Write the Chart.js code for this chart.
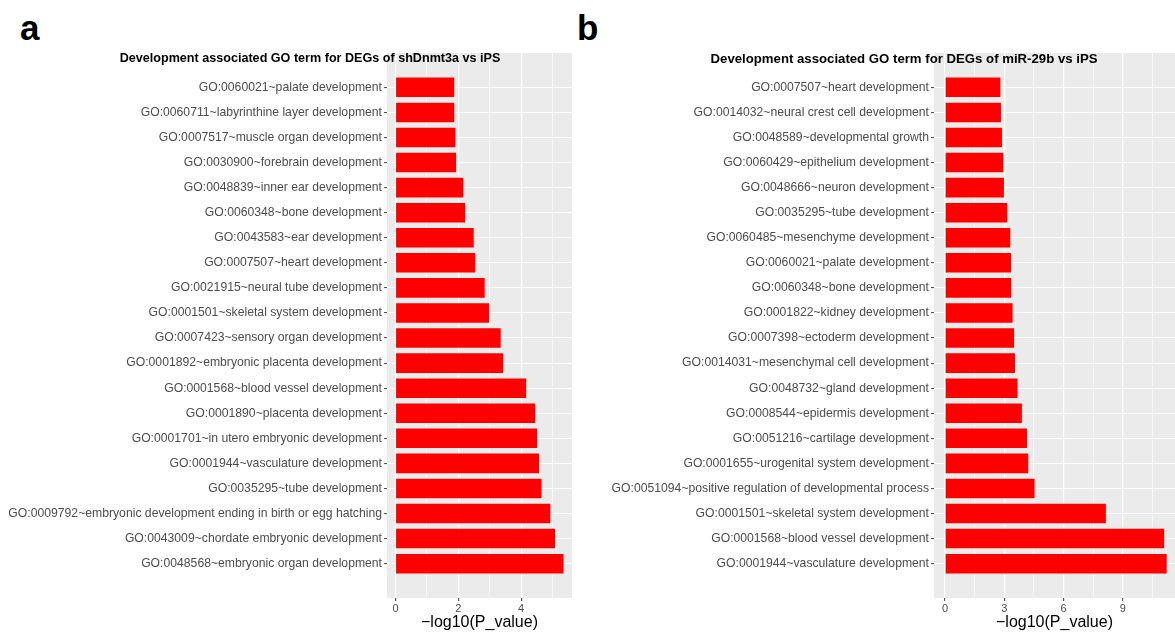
<!DOCTYPE html>
<html>
<head>
<meta charset="utf-8">
<script src="https://cdn.jsdelivr.net/npm/chart.js@4.4.0/dist/chart.umd.min.js"></script>
<style>
  body { margin: 0; background: #fff; width: 1175px; height: 632px; position: relative; overflow: hidden; font-family: "Liberation Sans", Arial, sans-serif; }
  .panel { position: absolute; top: 0; }
  .letter { position: absolute; font-weight: bold; font-size: 35px; color: #000; line-height: 1; }
</style>
</head>
<body>
<div class="letter" style="left:20px;top:10px;">a</div>
<div class="letter" style="left:577px;top:10px;">b</div>
<div class="panel" style="left:0px;"><canvas id="chartA" width="580" height="632"></canvas></div>
<div class="panel" style="left:580px;"><canvas id="chartB" width="595" height="632"></canvas></div>
<script>
var titleA = "Development associated GO term for DEGs of shDnmt3a vs iPS";
var labelsA = [
  "GO:0060021~palate development",
  "GO:0060711~labyrinthine layer development",
  "GO:0007517~muscle organ development",
  "GO:0030900~forebrain development",
  "GO:0048839~inner ear development",
  "GO:0060348~bone development",
  "GO:0043583~ear development",
  "GO:0007507~heart development",
  "GO:0021915~neural tube development",
  "GO:0001501~skeletal system development",
  "GO:0007423~sensory organ development",
  "GO:0001892~embryonic placenta development",
  "GO:0001568~blood vessel development",
  "GO:0001890~placenta development",
  "GO:0001701~in utero embryonic development",
  "GO:0001944~vasculature development",
  "GO:0035295~tube development",
  "GO:0009792~embryonic development ending in birth or egg hatching",
  "GO:0043009~chordate embryonic development",
  "GO:0048568~embryonic organ development"
];
var valuesA = [1.87, 1.87, 1.91, 1.93, 2.16, 2.22, 2.49, 2.54, 2.84, 2.98,
               3.35, 3.43, 4.16, 4.45, 4.51, 4.57, 4.65, 4.93, 5.08, 5.35];
var xTicksA = [0, 1, 2, 3, 4, 5];
var xMajorA = [0, 2, 4];

var titleB = "Development associated GO term for DEGs of miR-29b vs iPS";
var labelsB = [
  "GO:0007507~heart development",
  "GO:0014032~neural crest cell development",
  "GO:0048589~developmental growth",
  "GO:0060429~epithelium development",
  "GO:0048666~neuron development",
  "GO:0035295~tube development",
  "GO:0060485~mesenchyme development",
  "GO:0060021~palate development",
  "GO:0060348~bone development",
  "GO:0001822~kidney development",
  "GO:0007398~ectoderm development",
  "GO:0014031~mesenchymal cell development",
  "GO:0048732~gland development",
  "GO:0008544~epidermis development",
  "GO:0051216~cartilage development",
  "GO:0001655~urogenital system development",
  "GO:0051094~positive regulation of developmental process",
  "GO:0001501~skeletal system development",
  "GO:0001568~blood vessel development",
  "GO:0001944~vasculature development"
];
var valuesB = [2.80, 2.83, 2.88, 2.95, 2.98, 3.15, 3.30, 3.34, 3.35, 3.42,
               3.49, 3.54, 3.67, 3.89, 4.15, 4.21, 4.53, 8.14, 11.09, 11.22];
var xTicksB = [0, 1.5, 3, 4.5, 6, 7.5, 9, 10.5];
var xMajorB = [0, 3, 6, 9];

var axisTitle = "\u2212log10(P_value)";
var FONT = "'Liberation Sans', Arial, sans-serif";

function makePanel(id, title, labels, values, xTicks, xMajor, o) {
  var pts = values.map(function(v, i) { return {x: v, y: i}; });
  var isMajor = function(v) { return xMajor.indexOf(v) >= 0; };
  var panelPlugin = {
    id: 'panel_' + id,
    beforeDraw: function(chart) {
      // ggplot-like grey panel
      var a = chart.chartArea, c = chart.ctx;
      c.save();
      c.fillStyle = '#EBEBEB';
      c.fillRect(a.left, a.top, a.right - a.left, a.bottom - a.top);
      c.restore();
    },
    afterDraw: function(chart) {
      var c = chart.ctx;
      c.save();
      c.font = 'bold ' + o.titleSize + 'px ' + FONT;
      c.fillStyle = '#000';
      c.textAlign = 'center';
      c.textBaseline = 'middle';
      c.fillText(title, o.titleX, 59);
      c.restore();
    }
  };
  return new Chart(document.getElementById(id), {
    type: 'bar',
    data: {
      datasets: [{
        data: pts,
        backgroundColor: '#FF0000',
        borderWidth: 0,
        categoryPercentage: 1,
        barPercentage: 0.78
      }]
    },
    plugins: [panelPlugin],
    options: {
      indexAxis: 'y',
      responsive: false,
      animation: false,
      devicePixelRatio: 1,
      layout: { padding: { top: 53, right: o.padRight, bottom: 0, left: 0 } },
      plugins: { legend: { display: false }, tooltip: { enabled: false } },
      scales: {
        x: {
          type: 'linear',
          min: o.xMin,
          max: o.xMax,
          afterBuildTicks: function(s) { s.ticks = xTicks.map(function(v) { return {value: v}; }); },
          afterFit: function(s) { s.height = 34; },
          border: { display: false },
          grid: {
            color: '#FFFFFF',
            lineWidth: function(ctx) { return isMajor(ctx.tick.value) ? 1.2 : 0.6; },
            tickColor: function(ctx) { return isMajor(ctx.tick.value) ? '#555555' : 'rgba(0,0,0,0)'; },
            tickLength: 3,
            drawTicks: true
          },
          ticks: {
            autoSkip: false,
            maxRotation: 0,
            padding: 1,
            color: '#4D4D4D',
            font: { family: FONT, size: 11 },
            callback: function(v) { return isMajor(v) ? String(v) : ''; }
          },
          title: {
            display: true,
            text: axisTitle,
            color: '#000',
            font: { family: FONT, size: 16 },
            padding: { top: 0, bottom: 0 }
          }
        },
        y: {
          type: 'linear',
          reverse: true,
          offset: false,
          min: -1.37,
          max: labels.length - 1 + 1.37,
          afterBuildTicks: function(s) { s.ticks = labels.map(function(l, i) { return {value: i}; }); },
          afterFit: function(s) { s.width = o.yWidth; },
          border: { display: false },
          grid: {
            offset: false,
            color: '#FFFFFF',
            lineWidth: 1.1,
            tickColor: '#555555',
            tickLength: 3,
            drawTicks: true
          },
          ticks: {
            autoSkip: false,
            padding: 2,
            color: '#4D4D4D',
            font: { family: FONT, size: 12.2 },
            callback: function(v) { return labels[v]; }
          }
        }
      }
    }
  });
}

makePanel('chartA', titleA, labelsA, valuesA, xTicksA, xMajorA,
  { xMin: -0.27, xMax: 5.62, yWidth: 387, padRight: 8, titleX: 310, titleSize: 12.6 });
makePanel('chartB', titleB, labelsB, valuesB, xTicksB, xMajorB,
  { xMin: -0.56, xMax: 11.64, yWidth: 354, padRight: 0, titleX: 324, titleSize: 13.2 });
</script>
</body>
</html>
